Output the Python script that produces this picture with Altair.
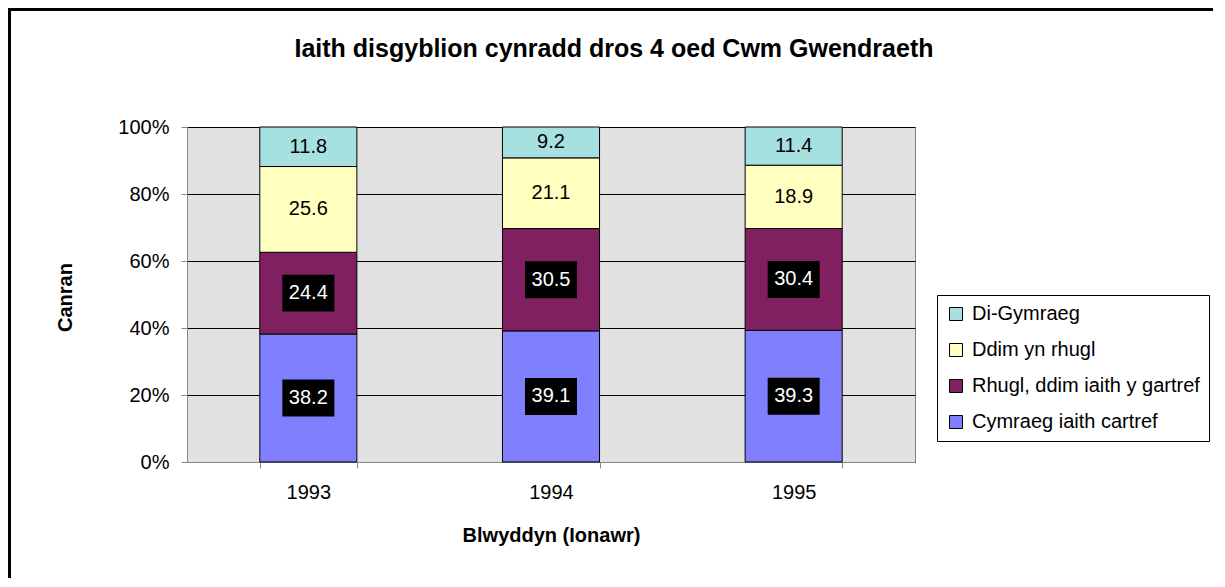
import altair as alt
import pandas as pd

years = ["1993", "1994", "1995"]
series = ["Cymraeg iaith cartref", " Rhugl, ddim iaith y gartref", "Ddim yn rhugl", "Di-Gymraeg"]
cymraeg = [38.2, 39.1, 39.3]
rhugl = [24.4, 30.5, 30.4]
ddim = [25.6, 21.1, 18.9]
di_gymraeg = [11.8, 9.2, 11.4]
colors = ["#8080FF", "#802060", "#FFFFC0", "#A6E0E0"]
boxed = [True, True, False, False]
y_ticks = [0, 0.2, 0.4, 0.6, 0.8, 1.0]

title_text = "Iaith disgyblion cynradd dros 4 oed Cwm Gwendraeth"
FONT = "Liberation Sans"

rows = []
for si, (name, vals) in enumerate(zip(series, [cymraeg, rhugl, ddim, di_gymraeg])):
    for yr, v in zip(years, vals):
        rows.append(dict(year=yr, series=name, value=v, order=si,
                         label=f"{v:.1f}", boxed=boxed[si]))
df = pd.DataFrame(rows)

legend_order = list(reversed(series))
legend_colors = list(reversed(colors))

base = alt.Chart(df).transform_stack(
    stack="value", groupby=["year"], as_=["v0", "v1"], offset="normalize",
    sort=[alt.SortField("order", order="ascending")]
).transform_calculate(mid="(datum.v0 + datum.v1) / 2")

xenc = alt.X("year:N", title="Blwyddyn (Ionawr)",
             scale=alt.Scale(paddingInner=0.6, paddingOuter=0.3),
             axis=alt.Axis(labelAngle=0, tickBand="extent", tickSize=6, labelPadding=14,
                           labelFontSize=20, titleFontSize=20, titleFontWeight="bold",
                           titleBaseline="alphabetic", titleY=79, grid=False))

bars = base.mark_bar(stroke="black", strokeWidth=1).encode(
    x=xenc,
    y=alt.Y("v0:Q", title="Canran", scale=alt.Scale(domain=[0, 1]),
            axis=alt.Axis(values=y_ticks, format=".0%", tickSize=6, labelPadding=12,
                          labelFontSize=20, titleFontSize=20, titleFontWeight="bold",
                          titleAngle=270, titleX=-122, titleY=170, titleBaseline="middle",
                          titleAlign="center", grid=True, gridColor="black", gridWidth=1)),
    y2="v1:Q",
    color=alt.Color("series:N", scale=alt.Scale(domain=legend_order, range=legend_colors),
                    legend=alt.Legend(orient="none", legendX=750, legendY=168, title=None,
                                      strokeColor="black", fillColor="white", padding=9,
                                      symbolType="square", symbolSize=169,
                                      symbolStrokeColor="black", symbolStrokeWidth=1,
                                      labelFontSize=20, labelFont=FONT, labelColor="black",
                                      labelLimit=0, rowPadding=16, labelOffset=6)),
)

boxes = base.transform_filter("datum.boxed").mark_point(
    shape="M-1,-0.71L1,-0.71L1,0.71L-1,0.71Z", filled=True, color="black",
    opacity=1, size=2704, strokeWidth=0
).encode(x=alt.X("year:N"), y=alt.Y("mid:Q"))

labels = base.mark_text(fontSize=20, font=FONT, baseline="middle", align="center").encode(
    x=alt.X("year:N"), y=alt.Y("mid:Q"), text="label:N",
    color=alt.condition("datum.boxed", alt.value("white"), alt.value("black")),
)

one = pd.DataFrame({"k": [0]})
border = alt.Chart(one).mark_rect(fillOpacity=0, stroke="black", strokeWidth=3).encode(
    x=alt.value(-177.5), y=alt.value(-117.5), x2=alt.value(1100), y2=alt.value(700))
title = alt.Chart(one).mark_text(text=title_text, font=FONT, fontSize=25, fontWeight="bold",
                                 align="center", baseline="alphabetic", color="black").encode(
    x=alt.value(427), y=alt.value(-70))

chart = alt.layer(border, bars, boxes, labels, title).properties(
    width=728, height=335,
    autosize=alt.AutoSizeParams(type="none"),
    padding={"left": 179, "top": 119, "right": 298, "bottom": 116},
    view=alt.ViewBackground(fill="#E1E1E1", stroke="#808080"),
).configure_axis(
    domainColor="black", tickColor="black", labelColor="black", titleColor="black",
    labelFont=FONT, titleFont=FONT
).configure(background="white")

chart.save("out.html", embed_options={"renderer": "svg", "actions": False})
